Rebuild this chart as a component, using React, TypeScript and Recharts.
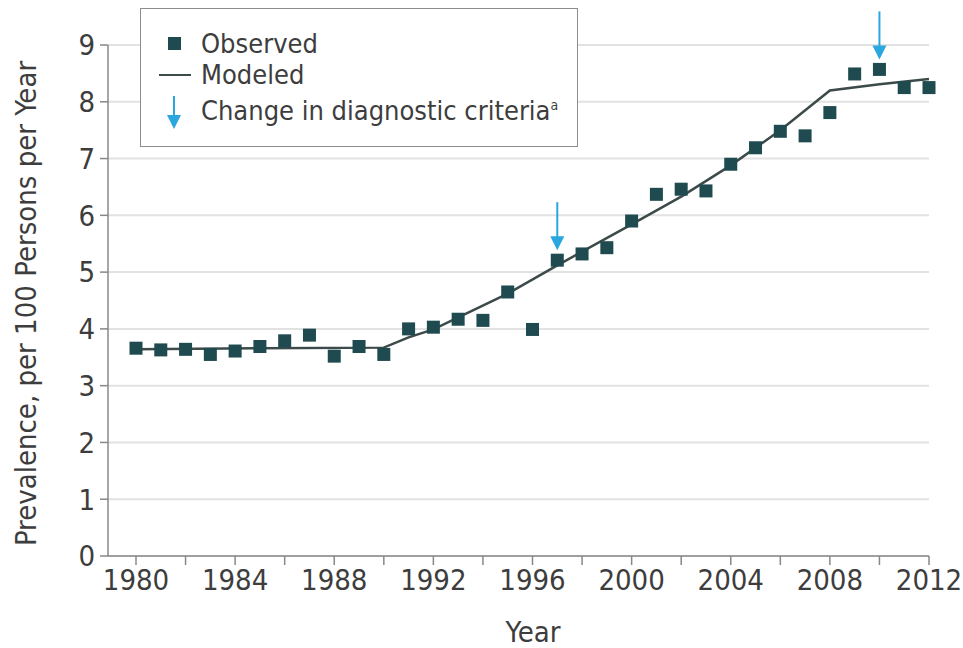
import React from "react"
import { ComposedChart, Line, Scatter, XAxis, YAxis, CartesianGrid } from "recharts"

const years = [
  1980, 1981, 1982, 1983, 1984, 1985, 1986, 1987, 1988, 1989, 1990, 1991, 1992, 1993, 1994, 1995, 1996,
  1997, 1998, 1999, 2000, 2001, 2002, 2003, 2004, 2005, 2006, 2007, 2008, 2009, 2010, 2011, 2012,
]
const observed = [
  3.66, 3.63, 3.64, 3.55, 3.61, 3.69, 3.79, 3.89, 3.52, 3.69, 3.55, 4.0, 4.03, 4.17, 4.15, 4.65, 3.99,
  5.21, 5.32, 5.43, 5.9, 6.37, 6.46, 6.43, 6.9, 7.19, 7.48, 7.4, 7.81, 8.49, 8.57, 8.25, 8.25,
]
const modeledYears = [1980, 1985, 1990, 1991, 1992, 1995, 1997, 2000, 2002, 2004, 2006, 2008, 2010, 2012]
const modeled = [3.64, 3.66, 3.67, 3.85, 3.99, 4.62, 5.12, 5.84, 6.33, 6.88, 7.5, 8.2, 8.31, 8.4]
const criteriaYears = [1997, 2010]
const xTicks = [1980, 1982, 1984, 1986, 1988, 1990, 1992, 1994, 1996, 1998, 2000, 2002, 2004, 2006, 2008, 2010, 2012]
const yTicks = [0, 1, 2, 3, 4, 5, 6, 7, 8, 9]

const observedData = years.map((year, i) => ({ year, value: observed[i] }))
const modeledData = modeledYears.map((year, i) => ({ year, value: modeled[i] }))
const arrowData = criteriaYears.map((year) => ({ year, value: observed[years.indexOf(year)] }))

const FONT = "'DejaVu Sans Condensed', 'Liberation Sans Narrow', sans-serif"
const TEXT = "#3d3d3d"
const MARK = "#1f4b50"
const ARROW = "#2aa7df"

function Square(props: any) {
  const { cx, cy } = props
  return <rect x={cx - 6.5} y={cy - 6.5} width={13} height={13} fill={MARK} />
}

function Arrow(props: any) {
  const { cx, cy } = props
  const tip = cy - 10
  return (
    <g>
      <line x1={cx} x2={cx} y1={cy - 58} y2={tip - 8} stroke={ARROW} strokeWidth={2} />
      <path d={`M${cx - 7},${tip - 14} L${cx + 7},${tip - 14} L${cx},${tip} Z`} fill={ARROW} />
    </g>
  )
}

function Legend() {
  const row = { position: "absolute" as const, left: 60, height: 30, lineHeight: "30px", whiteSpace: "nowrap" as const }
  return (
    <div
      style={{
        position: "absolute",
        left: 140,
        top: 8,
        width: 436,
        height: 137,
        border: "1.5px solid #8c8c8c",
        background: "#fff",
        fontFamily: FONT,
        fontSize: 27,
        color: TEXT,
      }}
    >
      <div style={{ position: "absolute", left: 27, top: 28, width: 13, height: 13, background: MARK }} />
      <div style={{ ...row, top: 20 }}>Observed</div>
      <div style={{ position: "absolute", left: 18, top: 65, width: 32, height: 2, background: "#3c4a4a" }} />
      <div style={{ ...row, top: 51 }}>Modeled</div>
      <svg style={{ position: "absolute", left: 24, top: 86 }} width={18} height={36}>
        <line x1={9} x2={9} y1={1} y2={22} stroke={ARROW} strokeWidth={2} />
        <path d="M2,20 L16,20 L9,34 Z" fill={ARROW} />
      </svg>
      <div style={{ ...row, top: 81 }}>
        Change in diagnostic criteria<sup style={{ fontSize: 14, verticalAlign: "10px" }}>a</sup>
      </div>
    </div>
  )
}

export default function App() {
  return (
    <div style={{ position: "absolute", left: 0, top: 0, width: 963, height: 648, background: "#fff" }}>
      <ComposedChart width={963} height={648} margin={{ top: 45, right: 34, bottom: 0, left: 0 }}>
        <CartesianGrid vertical={false} stroke="#e2e2e2" strokeWidth={2} />
        <XAxis
          type="number"
          dataKey="year"
          domain={[1980, 2012]}
          ticks={xTicks}
          interval={0}
          padding={{ left: 28, right: 0 }}
          height={92}
          tickSize={9}
          tickMargin={4}
          tickFormatter={(v: number) => (v % 4 === 0 ? String(v) : "")}
          tick={{ fill: TEXT, fontSize: 29, fontFamily: FONT }}
          stroke="#888"
          strokeWidth={1.5}
          label={() => (
            <text x={533} y={642} textAnchor="middle" fill={TEXT} fontSize={29} fontFamily={FONT}>
              Year
            </text>
          )}
        />
        <YAxis
          type="number"
          dataKey="value"
          domain={[0, 9]}
          ticks={yTicks}
          interval={0}
          width={108}
          tickSize={8}
          tickMargin={5}
          tick={{ fill: TEXT, fontSize: 29, fontFamily: FONT }}
          stroke="#888"
          strokeWidth={1.5}
          label={(p: any) => {
            const vb = p.viewBox
            const cx = 26
            const cy = vb.y + vb.height / 2 + 3
            return (
              <text
                x={cx}
                y={cy}
                transform={`rotate(-90 ${cx} ${cy})`}
                textAnchor="middle"
                dominantBaseline="central"
                fill={TEXT}
                fontSize={29}
                fontFamily={FONT}
              >
                Prevalence, per 100 Persons per Year
              </text>
            )
          }}
        />
        <Line
          data={modeledData}
          dataKey="value"
          type="linear"
          stroke="#3c4a4a"
          strokeWidth={2.5}
          dot={false}
          activeDot={false}
          isAnimationActive={false}
        />
        <Scatter data={observedData} dataKey="value" shape={Square} isAnimationActive={false} />
        <Scatter data={arrowData} dataKey="value" shape={Arrow} isAnimationActive={false} />
      </ComposedChart>
      <Legend />
    </div>
  )
}
